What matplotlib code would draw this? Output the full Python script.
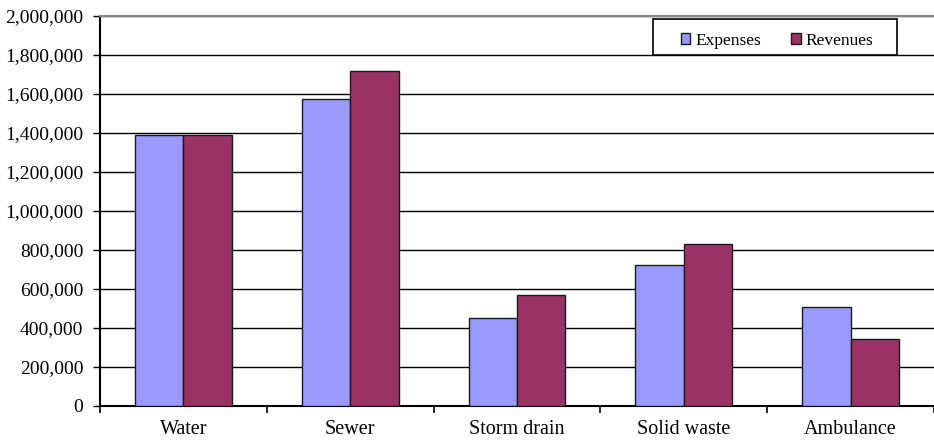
import matplotlib
matplotlib.use("Agg")
import matplotlib.pyplot as plt
import numpy as np
from matplotlib.patches import Rectangle
from matplotlib.ticker import FuncFormatter

categories = ["Water", "Sewer", "Storm drain", "Solid waste", "Ambulance"]
expenses = [1390000, 1575000, 452000, 721000, 509000]
revenues = [1390000, 1718000, 569000, 831000, 344000]
series_names = ["Expenses", "Revenues"]

plt.rcParams["font.family"] = ["Liberation Serif", "DejaVu Serif"]

fig = plt.figure(figsize=(9.34, 4.41), dpi=100)
ax = fig.add_axes([100 / 934, 35 / 441, 834 / 934, 390 / 441])

x = np.arange(len(categories))
w = 0.29
ax.bar(x - w / 2, expenses, w, color="#9999FF", edgecolor="#1a1a1a",
       linewidth=1, label=series_names[0], zorder=3)
ax.bar(x + w / 2, revenues, w, color="#993366", edgecolor="#1a1a1a",
       linewidth=1, label=series_names[1], zorder=3)

ax.set_xlim(-0.5, len(categories) - 0.5)
ax.set_ylim(0, 2000000)
ax.set_yticks(np.arange(0, 2000001, 200000))
ax.yaxis.set_major_formatter(FuncFormatter(lambda v, p: f"{int(v):,}"))
ax.yaxis.grid(True, color="black", linewidth=1, zorder=0)
ax.set_axisbelow(True)

ax.set_xticks(x)
ax.set_xticklabels(categories)
ax.set_xticks(np.arange(-0.5, len(categories)), minor=True)
ax.tick_params(axis="x", which="major", length=0, pad=10, labelsize=14.5)
ax.tick_params(axis="x", which="minor", length=5, width=1.2, direction="out")
ax.tick_params(axis="y", length=5, width=1, labelsize=14, pad=7)

ax.spines["right"].set_visible(False)
ax.spines["top"].set_color("#888888")
ax.spines["top"].set_linewidth(1.5)
ax.spines["left"].set_linewidth(1.5)
ax.spines["bottom"].set_linewidth(1.5)

# legend frame drawn as a box, entries centred in it
ax.add_patch(Rectangle((0.663, 0.9), 0.2926, 0.0923, transform=ax.transAxes,
                       facecolor="white", edgecolor="black", linewidth=1.2,
                       zorder=5, clip_on=False))
leg = ax.legend(loc="center", bbox_to_anchor=(0.812, 0.937), ncol=2,
                fontsize=12.5, frameon=False, handlelength=0.55,
                handleheight=0.55, handletextpad=0.3, columnspacing=1.7,
                borderpad=0, borderaxespad=0)
leg.set_zorder(6)

fig.savefig("out.png", dpi=100)
